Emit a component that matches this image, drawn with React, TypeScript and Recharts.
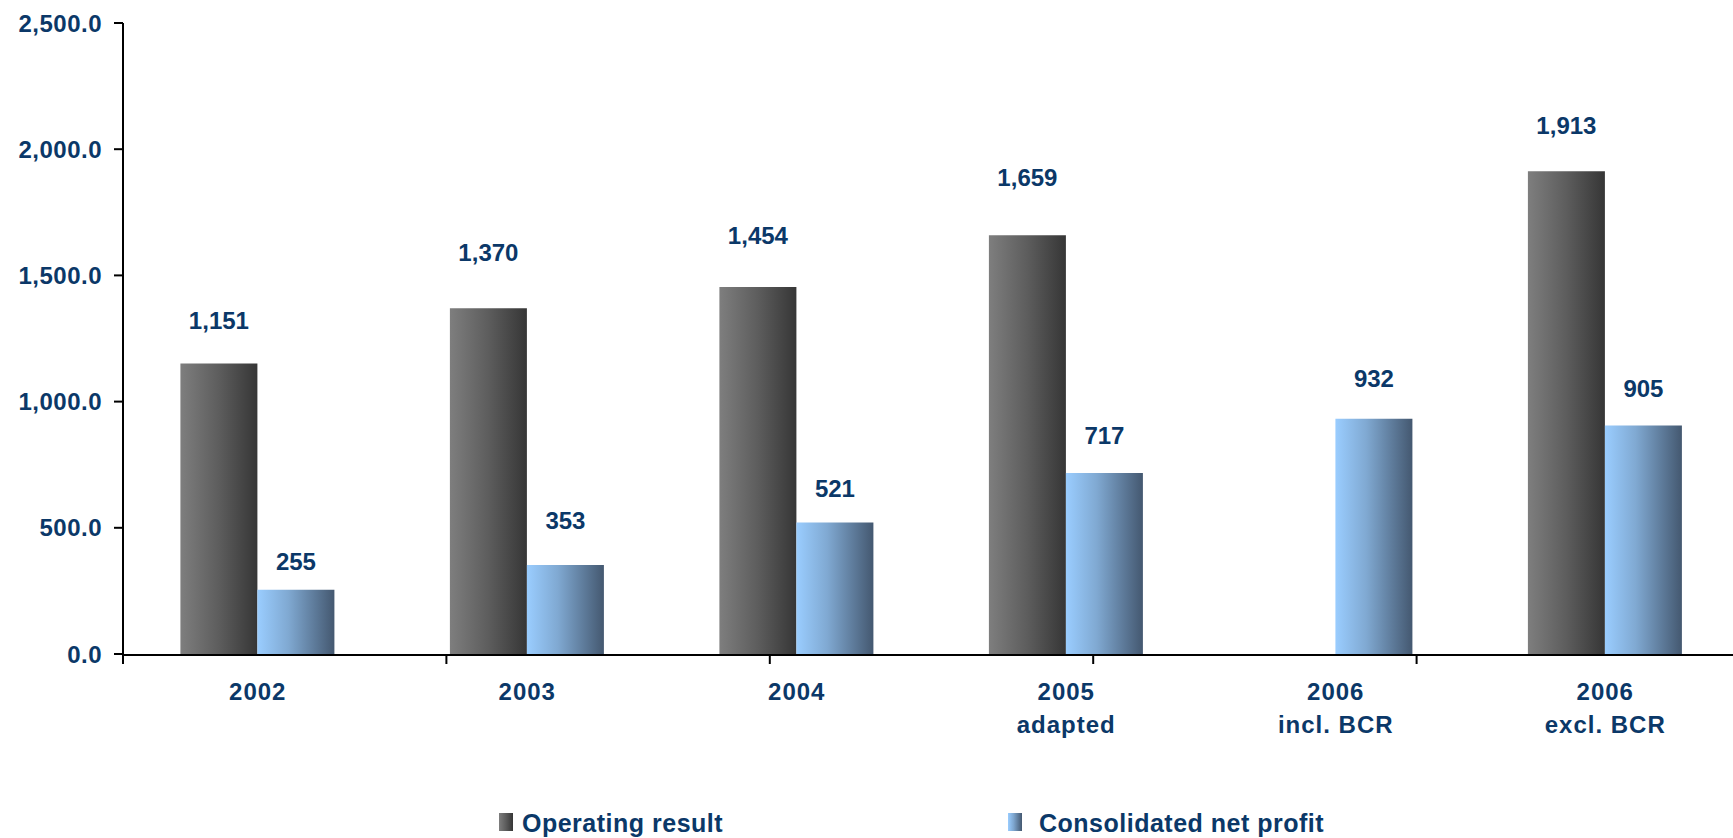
import { Bar, BarChart, XAxis, YAxis, Legend, LabelList } from "recharts"

const categories = ["2002", "2003", "2004", "2005\nadapted", "2006\nincl. BCR", "2006\nexcl. BCR"]
const operatingResult = [1151, 1370, 1454, 1659, null, 1913]
const netProfit = [255, 353, 521, 717, 932, 905]
const yTicks = [0, 500, 1000, 1500, 2000, 2500]
const categoryEdges = [0, 1, 2, 3, 4, 5, 6]

// the value labels in the original were nudged by hand, so each has its own lift (px above bar top)
const operatingLift = [43, 56, 52, 58, 0, 46]
const netLift = [28, 44, 34, 38, 40, 37]

const data = categories.map((name, i) => ({
  name,
  operating: operatingResult[i],
  net: netProfit[i],
}))

const navy = "#0b3868"
const font = "'Liberation Sans', Arial, sans-serif"

const swatches: Record<string, string> = {
  operating: "linear-gradient(to right, #7e7e7e, #5c5c5c 50%, #363636)",
  net: "linear-gradient(to right, #9acdff, #7ea6cf 40%, #445870)",
}
const legendLeft: Record<string, number> = { operating: 499, net: 1008 }
const legendGap: Record<string, number> = { operating: 9, net: 17 }

// null bars are dropped before labelling, so find the slot by value instead of index
function valueLabel(values: (number | null)[], lifts: number[]) {
  return (props: any) => {
    const vb = props.viewBox ?? props
    const x = Number(props.x ?? vb.x)
    const y = Number(props.y ?? vb.y)
    const w = Number(props.width ?? vb.width)
    const { value } = props
    if (value == null) return null
    const slot = values.indexOf(Number(value))
    const lift = lifts[slot] ?? 40
    return (
      <text
        x={x + w / 2}
        y={y - lift + 8.5}
        textAnchor="middle"
        fill={navy}
        fontFamily={font}
        fontWeight="bold"
        fontSize={24}
      >
        {Number(value).toLocaleString("en-US")}
      </text>
    )
  }
}

function CategoryTick(props: any) {
  const { x, y, payload } = props
  const lines = String(payload.value).split("\n")
  return (
    <text
      x={x}
      y={y}
      textAnchor="middle"
      fill={navy}
      fontFamily={font}
      fontWeight="bold"
      fontSize={24}
      letterSpacing={1}
    >
      {lines.map((line, i) => (
        <tspan key={i} x={x} dy={i === 0 ? 46 : 33}>
          {line}
        </tspan>
      ))}
    </text>
  )
}

function LegendContent(props: any) {
  const items = props.payload ?? []
  return (
    <div style={{ position: "relative", width: 1733, height: 40 }}>
      {items.map((item: any) => (
        <div
          key={item.dataKey}
          style={{ position: "absolute", left: legendLeft[item.dataKey], top: 0, height: 40, whiteSpace: "nowrap" }}
        >
          <span
            style={{
              position: "absolute",
              left: 0,
              top: 10,
              width: 14,
              height: 18,
              background: swatches[item.dataKey],
            }}
          />
          <span
            style={{
              position: "absolute",
              left: 14 + legendGap[item.dataKey],
              top: 0,
              lineHeight: "40px",
              fontFamily: font,
              fontWeight: "bold",
              fontSize: 25,
              letterSpacing: 0.5,
              color: navy,
            }}
          >
            {item.value}
          </span>
        </div>
      ))}
    </div>
  )
}

export default function App() {
  return (
    <div style={{ position: "absolute", left: 0, top: 0, width: 1733, height: 838, overflow: "hidden", background: "#fff" }}>
      <BarChart
        width={1745}
        height={838}
        data={data}
        margin={{ top: 23, right: 5, left: 0, bottom: 100 }}
        barCategoryGap="21.3%"
        barGap={0}
      >
        <defs>
          <linearGradient id="gradOperating" x1="0" y1="0" x2="1" y2="0">
            <stop offset="0%" stopColor="#7e7e7e" />
            <stop offset="50%" stopColor="#5d5d5d" />
            <stop offset="100%" stopColor="#363636" />
          </linearGradient>
          <linearGradient id="gradNet" x1="0" y1="0" x2="1" y2="0">
            <stop offset="0%" stopColor="#9acdff" />
            <stop offset="40%" stopColor="#80a9d2" />
            <stop offset="100%" stopColor="#445870" />
          </linearGradient>
        </defs>
        <XAxis
          dataKey="name"
          height={1}
          axisLine={false}
          tickLine={false}
          tickSize={0}
          tickMargin={0}
          interval={0}
          tick={<CategoryTick />}
        />
        <XAxis
          xAxisId="edges"
          type="number"
          domain={[0, 6]}
          ticks={categoryEdges}
          allowDataOverflow
          height={83}
          axisLine={{ stroke: "#000", strokeWidth: 2 }}
          tickLine={{ stroke: "#000", strokeWidth: 2 }}
          tickSize={9}
          tickFormatter={() => ""}
        />
        <YAxis
          width={123}
          domain={[0, 2500]}
          ticks={yTicks}
          interval={0}
          axisLine={{ stroke: "#000", strokeWidth: 2 }}
          tickLine={{ stroke: "#000", strokeWidth: 2 }}
          tickSize={9}
          tickMargin={12}
          tickFormatter={(v: number) => v.toLocaleString("en-US", { minimumFractionDigits: 1, maximumFractionDigits: 1 })}
          tick={{ fill: navy, fontFamily: font, fontWeight: "bold", fontSize: 24, letterSpacing: 0.5 }}
        />
        <Legend
          verticalAlign="middle"
          align="center"
          wrapperStyle={{ top: 803, left: 0, width: 1733, height: 40 }}
          content={<LegendContent />}
        />
        <Bar dataKey="operating" name="Operating result" fill="url(#gradOperating)" isAnimationActive={false}>
          <LabelList dataKey="operating" content={valueLabel(operatingResult, operatingLift)} />
        </Bar>
        <Bar dataKey="net" name="Consolidated net profit" fill="url(#gradNet)" isAnimationActive={false}>
          <LabelList dataKey="net" content={valueLabel(netProfit, netLift)} />
        </Bar>
      </BarChart>
    </div>
  )
}
